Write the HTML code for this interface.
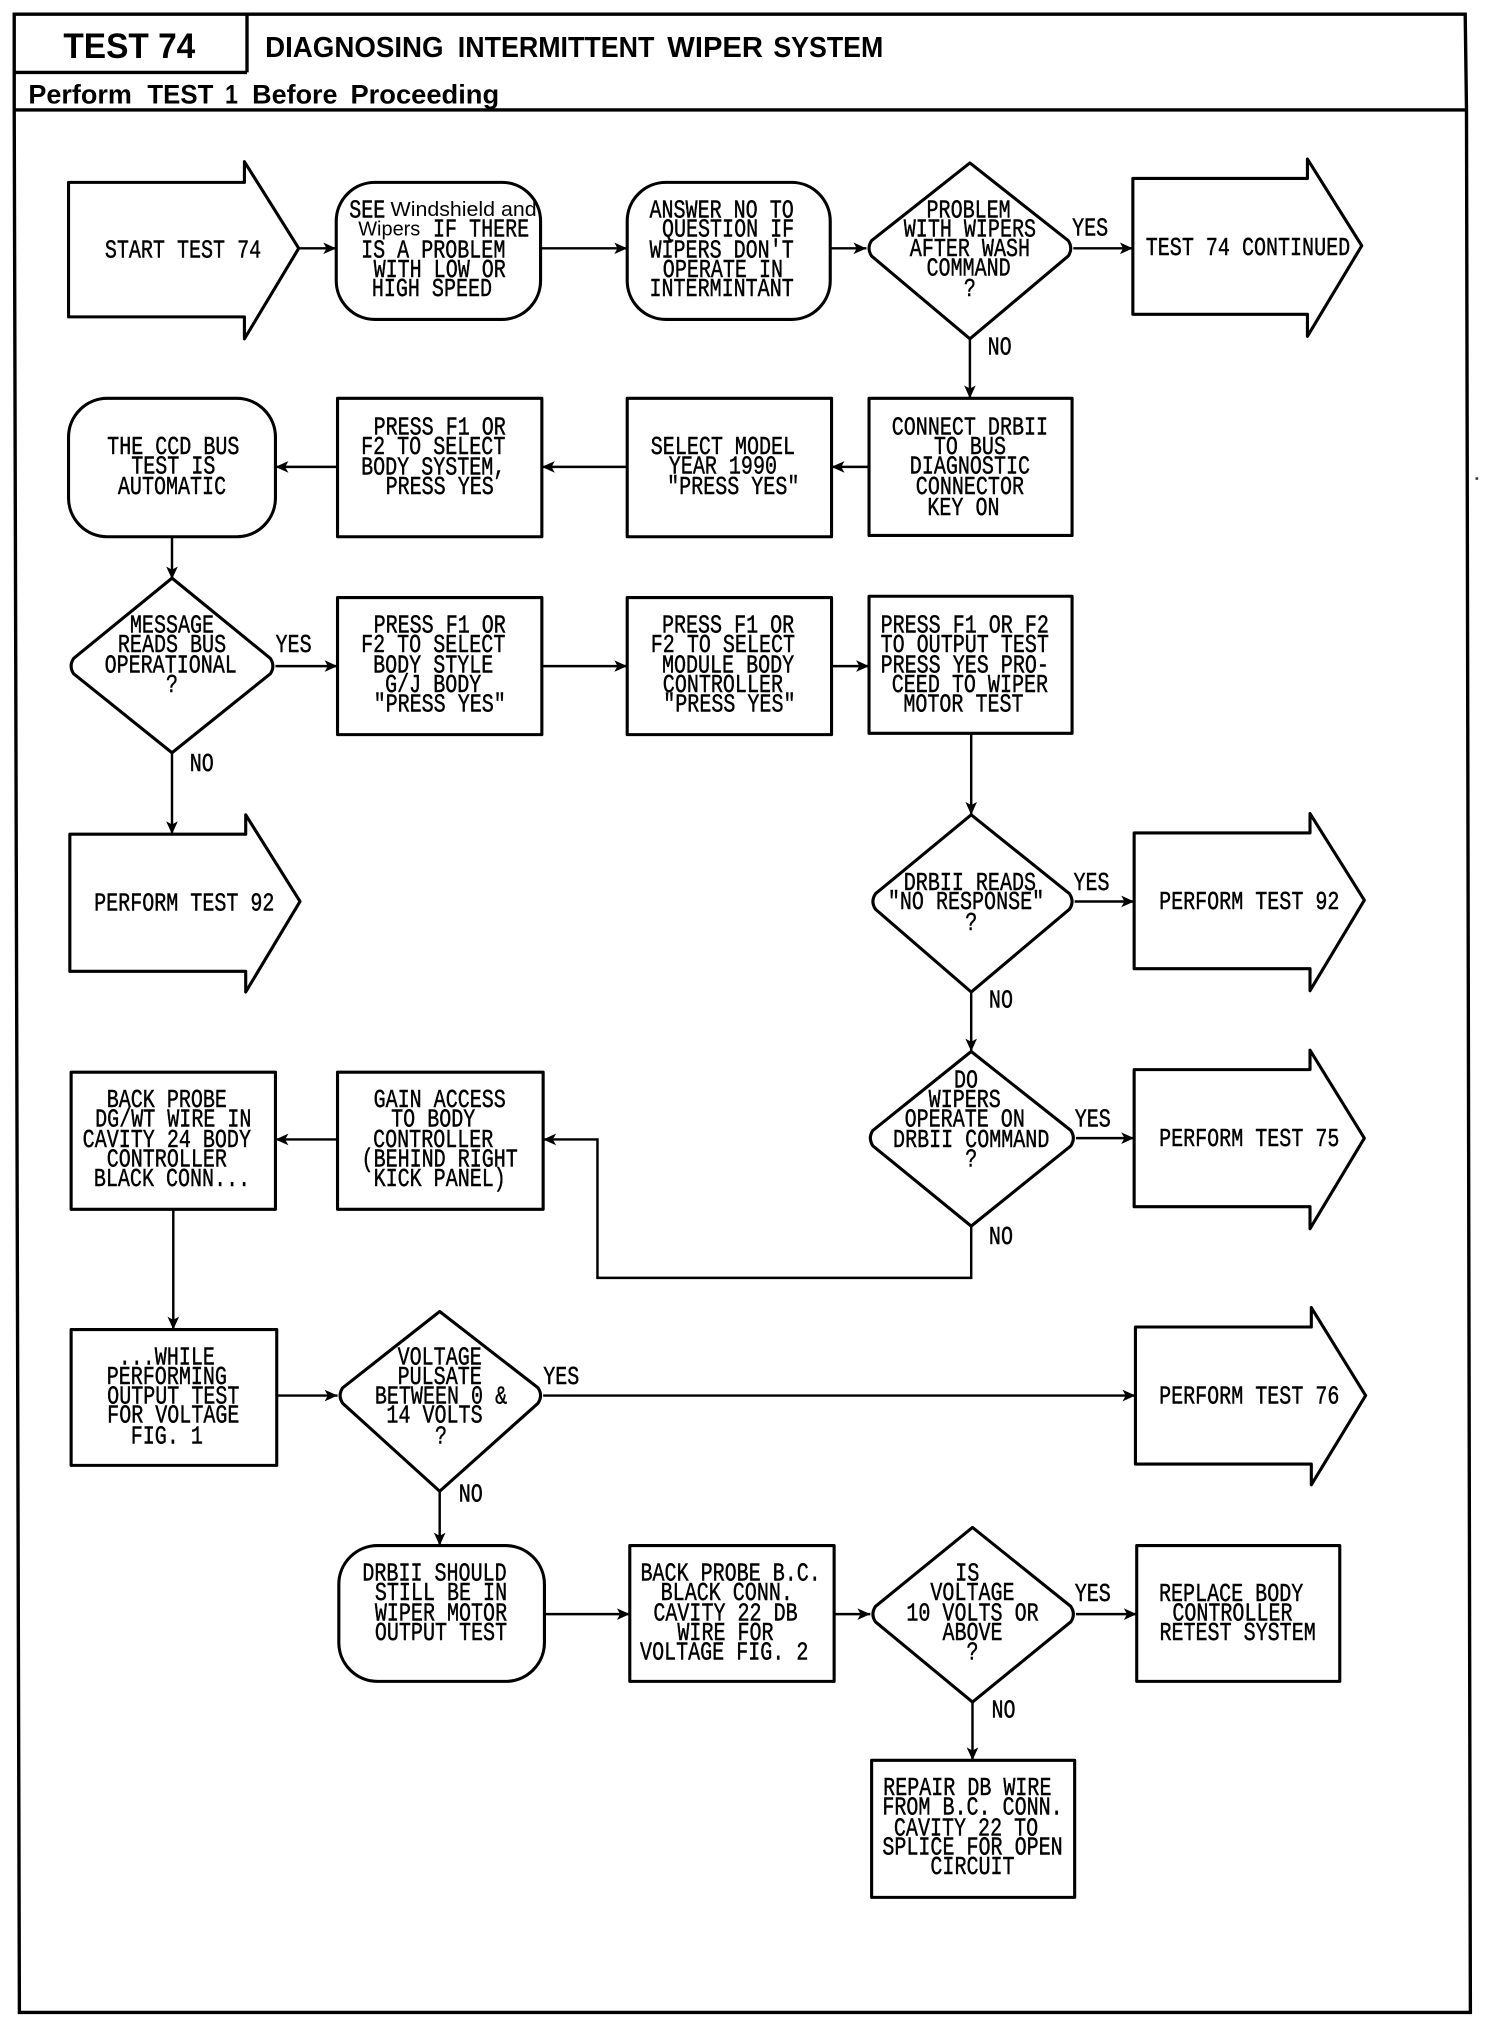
<!DOCTYPE html>
<html><head><meta charset="utf-8"><style>
html,body{margin:0;padding:0;background:#fff}
svg{display:block;position:absolute;left:0;top:0}
.s{fill:#fff;stroke:#000;stroke-width:2.4;stroke-linejoin:round}
.l{fill:none;stroke:#000;stroke-width:1.9}
.f{fill:none;stroke:#000;stroke-width:2.6}
text{fill:#000}
.m text{font-family:"Liberation Mono",monospace;font-size:20px;text-anchor:middle;stroke:#000;stroke-width:.35}
.h{font-family:"Liberation Sans",sans-serif;font-weight:bold}
</style></head><body>
<svg width="1504" height="2028" viewBox="0 0 1163 1568" preserveAspectRatio="none" xmlns="http://www.w3.org/2000/svg">
<defs>
<marker id="a" markerUnits="userSpaceOnUse" markerWidth="12" markerHeight="10" refX="10" refY="5" orient="auto"><path d="M0 0.5L10 5L0 9.5L2.5 5Z" fill="#000"/></marker>
</defs>
<rect width="1163" height="1568" fill="#fff"/>

<!-- frame -->
<path class="f" d="M11 11H1133L1134 85L1137 1556H15L11 85Z"/>
<path class="f" d="M11 85H1134M11 56H191M191 11V56"/>
<text class="h" x="100" y="45" font-size="27" text-anchor="middle" textLength="102" lengthAdjust="spacingAndGlyphs">TEST 74</text>
<text class="h" x="205" y="44" font-size="22" textLength="138" lengthAdjust="spacingAndGlyphs">DIAGNOSING</text>
<text class="h" x="354" y="44" font-size="22" textLength="152" lengthAdjust="spacingAndGlyphs">INTERMITTENT</text>
<text class="h" x="516" y="44" font-size="22" textLength="74" lengthAdjust="spacingAndGlyphs">WIPER</text>
<text class="h" x="598" y="44" font-size="22" textLength="85" lengthAdjust="spacingAndGlyphs">SYSTEM</text>
<text class="h" x="22" y="80" font-size="21" textLength="80" lengthAdjust="spacingAndGlyphs">Perform</text>
<text class="h" x="114" y="80" font-size="21" textLength="51" lengthAdjust="spacingAndGlyphs">TEST</text>
<text class="h" x="174" y="80" font-size="21" textLength="10" lengthAdjust="spacingAndGlyphs">1</text>
<text class="h" x="195" y="80" font-size="21" textLength="66" lengthAdjust="spacingAndGlyphs">Before</text>
<text class="h" x="271" y="80" font-size="21" textLength="115" lengthAdjust="spacingAndGlyphs">Proceeding</text>
<rect x="1141" y="369" width="2" height="2" fill="#333"/>

<!-- shapes -->
<polygon class="s" points="53,141 189,141 189,125 231,192 189,262 189,245 53,245"/>
<rect class="s" x="260" y="141" width="158" height="106" rx="30"/>
<rect class="s" x="485" y="141" width="157" height="106" rx="30"/>
<path class="s" d="M750 126L826 186Q830 192 826 198L750 262L674 198Q670 192 674 186Z"/>
<polygon class="s" points="876,138 1011,138 1011,123 1053,190 1011,260 1011,243 876,243"/>

<rect class="s" x="672" y="308" width="157" height="106"/>
<rect class="s" x="485" y="308" width="158" height="107"/>
<rect class="s" x="261" y="308" width="158" height="107"/>
<rect class="s" x="53" y="308" width="160" height="107" rx="30"/>

<path class="s" d="M133 447L209 509Q213 515 209 521L133 582L57 521Q53 515 57 509Z"/>
<rect class="s" x="261" y="462" width="158" height="106"/>
<rect class="s" x="485" y="462" width="158" height="106"/>
<rect class="s" x="672" y="461" width="157" height="106"/>

<polygon class="s" points="54,645 190,645 190,630 232,697 190,767 190,751 54,751"/>
<path class="s" d="M751 630L827 691Q831 697 827 703L751 767L677 703Q673 697 677 691Z"/>
<polygon class="s" points="877,644 1013,644 1013,629 1055,696 1013,766 1013,749 877,749"/>

<path class="s" d="M751 813L828 874Q832 880 828 886L751 948L675 886Q671 880 675 874Z"/>
<polygon class="s" points="877,827 1013,827 1013,812 1055,880 1013,950 1013,933 877,933"/>
<rect class="s" x="261" y="829" width="159" height="106"/>
<rect class="s" x="55" y="829" width="158" height="106"/>

<rect class="s" x="55" y="1028" width="159" height="105"/>
<path class="s" d="M340 1014L416 1073Q420 1079 416 1085L340 1153L265 1085Q261 1079 265 1073Z"/>
<polygon class="s" points="878,1026 1014,1026 1014,1011 1056,1079 1014,1148 1014,1132 878,1132"/>

<rect class="s" x="262" y="1195" width="159" height="105" rx="30"/>
<rect class="s" x="487" y="1195" width="158" height="105"/>
<path class="s" d="M752 1181L828 1242Q832 1248 828 1254L752 1316L677 1254Q673 1248 677 1242Z"/>
<rect class="s" x="879" y="1195" width="157" height="105"/>
<rect class="s" x="674" y="1361" width="157" height="106"/>

<!-- connectors -->
<path class="l" marker-end="url(#a)" d="M231 192H260"/>
<path class="l" marker-end="url(#a)" d="M418 192H485"/>
<path class="l" marker-end="url(#a)" d="M642 192H670"/>
<path class="l" marker-end="url(#a)" d="M830 192H876"/>
<path class="l" marker-end="url(#a)" d="M750 262V308"/>
<path class="l" marker-end="url(#a)" d="M672 361H643"/>
<path class="l" marker-end="url(#a)" d="M485 361H419"/>
<path class="l" marker-end="url(#a)" d="M261 361H213"/>
<path class="l" marker-end="url(#a)" d="M133 415V448"/>
<path class="l" marker-end="url(#a)" d="M213 515H261"/>
<path class="l" marker-end="url(#a)" d="M419 515H485"/>
<path class="l" marker-end="url(#a)" d="M643 515H672"/>
<path class="l" marker-end="url(#a)" d="M133 582V645"/>
<path class="l" marker-end="url(#a)" d="M751 567V630"/>
<path class="l" marker-end="url(#a)" d="M831 697H877"/>
<path class="l" marker-end="url(#a)" d="M751 767V813"/>
<path class="l" marker-end="url(#a)" d="M832 880H877"/>
<path class="l" marker-end="url(#a)" d="M751 948V988H462V881H420"/>
<path class="l" marker-end="url(#a)" d="M261 881H213"/>
<path class="l" marker-end="url(#a)" d="M134 935V1028"/>
<path class="l" marker-end="url(#a)" d="M214 1079H261"/>
<path class="l" marker-end="url(#a)" d="M420 1079H878"/>
<path class="l" marker-end="url(#a)" d="M340 1153V1195"/>
<path class="l" marker-end="url(#a)" d="M421 1248H487"/>
<path class="l" marker-end="url(#a)" d="M645 1248H673"/>
<path class="l" marker-end="url(#a)" d="M832 1248H879"/>
<path class="l" marker-end="url(#a)" d="M752 1316V1361"/>

<!-- text -->
<g class="m">
<text transform="translate(141.5 199) scale(.775 1)">START TEST 74</text>

<text transform="translate(284 168) scale(.775 1)">SEE</text>
<text x="302" y="167" style="font-family:'Liberation Sans',sans-serif;font-size:15.5px;text-anchor:start;stroke:none" textLength="113" lengthAdjust="spacingAndGlyphs">Windshield and</text>
<text x="277" y="182" style="font-family:'Liberation Sans',sans-serif;font-size:15.5px;text-anchor:start;stroke:none" textLength="48" lengthAdjust="spacingAndGlyphs">Wipers</text>
<text transform="translate(372 183) scale(.775 1)">IF THERE</text>
<text transform="translate(335 199) scale(.775 1)">IS A PROBLEM</text>
<text transform="translate(340 214) scale(.775 1)">WITH LOW OR</text>
<text transform="translate(334 229) scale(.775 1)">HIGH SPEED</text>

<text transform="translate(558 168) scale(.775 1)">ANSWER NO TO</text>
<text transform="translate(563 183) scale(.775 1)">QUESTION IF</text>
<text transform="translate(558 199) scale(.775 1)">WIPERS DON'T</text>
<text transform="translate(559 214) scale(.775 1)">OPERATE IN</text>
<text transform="translate(558 229) scale(.775 1)">INTERMINTANT</text>

<text transform="translate(749 168) scale(.775 1)">PROBLEM</text>
<text transform="translate(750 183) scale(.775 1)">WITH WIPERS</text>
<text transform="translate(750 198) scale(.775 1)">AFTER WASH</text>
<text transform="translate(749 213) scale(.775 1)">COMMAND</text>
<text transform="translate(750 229) scale(.775 1)">?</text>
<text transform="translate(843 182) scale(.775 1)">YES</text>
<text transform="translate(773 274) scale(.775 1)">NO</text>
<text transform="translate(965 197) scale(.775 1)">TEST 74 CONTINUED</text>

<text transform="translate(750 336) scale(.775 1)">CONNECT DRBII</text>
<text transform="translate(750 351) scale(.775 1)">TO BUS</text>
<text transform="translate(750 366) scale(.775 1)">DIAGNOSTIC</text>
<text transform="translate(750 382) scale(.775 1)">CONNECTOR</text>
<text transform="translate(745 398) scale(.775 1)">KEY ON</text>

<text transform="translate(559 351) scale(.775 1)">SELECT MODEL</text>
<text transform="translate(559 366) scale(.775 1)">YEAR 1990</text>
<text transform="translate(567 382) scale(.775 1)">"PRESS YES"</text>

<text transform="translate(340 336) scale(.775 1)">PRESS F1 OR</text>
<text transform="translate(335 351) scale(.775 1)">F2 TO SELECT</text>
<text transform="translate(335 367) scale(.775 1)">BODY SYSTEM,</text>
<text transform="translate(340 382) scale(.775 1)">PRESS YES</text>

<text transform="translate(134 351) scale(.775 1)">THE CCD BUS</text>
<text transform="translate(134 366) scale(.775 1)">TEST IS</text>
<text transform="translate(133 382) scale(.775 1)">AUTOMATIC</text>

<text transform="translate(133 489) scale(.775 1)">MESSAGE</text>
<text transform="translate(133 504) scale(.775 1)">READS BUS</text>
<text transform="translate(132 520) scale(.775 1)">OPERATIONAL</text>
<text transform="translate(133 535) scale(.775 1)">?</text>
<text transform="translate(227 504) scale(.775 1)">YES</text>
<text transform="translate(156 596) scale(.775 1)">NO</text>

<text transform="translate(340 489) scale(.775 1)">PRESS F1 OR</text>
<text transform="translate(335 504) scale(.775 1)">F2 TO SELECT</text>
<text transform="translate(335 520) scale(.775 1)">BODY STYLE</text>
<text transform="translate(335 535) scale(.775 1)">G/J BODY</text>
<text transform="translate(340 550) scale(.775 1)">"PRESS YES"</text>

<text transform="translate(563 489) scale(.775 1)">PRESS F1 OR</text>
<text transform="translate(559 504) scale(.775 1)">F2 TO SELECT</text>
<text transform="translate(563 520) scale(.775 1)">MODULE BODY</text>
<text transform="translate(559 535) scale(.775 1)">CONTROLLER</text>
<text transform="translate(564 550) scale(.775 1)">"PRESS YES"</text>

<text transform="translate(746 489) scale(.775 1)">PRESS F1 OR F2</text>
<text transform="translate(746 504) scale(.775 1)">TO OUTPUT TEST</text>
<text transform="translate(746 520) scale(.775 1)">PRESS YES PRO-</text>
<text transform="translate(750 535) scale(.775 1)">CEED TO WIPER</text>
<text transform="translate(745 550) scale(.775 1)">MOTOR TEST</text>

<text transform="translate(142.5 704) scale(.775 1)">PERFORM TEST 92</text>

<text transform="translate(750 688) scale(.775 1)">DRBII READS</text>
<text transform="translate(747 703) scale(.775 1)">"NO RESPONSE"</text>
<text transform="translate(751 719) scale(.775 1)">?</text>
<text transform="translate(844 688) scale(.775 1)">YES</text>
<text transform="translate(774 779) scale(.775 1)">NO</text>
<text transform="translate(966 703) scale(.775 1)">PERFORM TEST 92</text>

<text transform="translate(747 841) scale(.775 1)">DO</text>
<text transform="translate(746 856) scale(.775 1)">WIPERS</text>
<text transform="translate(746 871) scale(.775 1)">OPERATE ON</text>
<text transform="translate(751 887) scale(.775 1)">DRBII COMMAND</text>
<text transform="translate(751 902) scale(.775 1)">?</text>
<text transform="translate(845 871) scale(.775 1)">YES</text>
<text transform="translate(774 962) scale(.775 1)">NO</text>
<text transform="translate(966 886) scale(.775 1)">PERFORM TEST 75</text>

<text transform="translate(340 856) scale(.775 1)">GAIN ACCESS</text>
<text transform="translate(335 871) scale(.775 1)">TO BODY</text>
<text transform="translate(335 887) scale(.775 1)">CONTROLLER</text>
<text transform="translate(340 902) scale(.775 1)">(BEHIND RIGHT</text>
<text transform="translate(340 917) scale(.775 1)">KICK PANEL)</text>

<text transform="translate(129 856) scale(.775 1)">BACK PROBE</text>
<text transform="translate(134 871) scale(.775 1)">DG/WT WIRE IN</text>
<text transform="translate(129 887) scale(.775 1)">CAVITY 24 BODY</text>
<text transform="translate(129 902) scale(.775 1)">CONTROLLER</text>
<text transform="translate(133 917) scale(.775 1)">BLACK CONN...</text>

<text transform="translate(129 1055) scale(.775 1)">...WHILE</text>
<text transform="translate(129 1070) scale(.775 1)">PERFORMING</text>
<text transform="translate(134 1085) scale(.775 1)">OUTPUT TEST</text>
<text transform="translate(134 1100) scale(.775 1)">FOR VOLTAGE</text>
<text transform="translate(129 1116) scale(.775 1)">FIG. 1</text>

<text transform="translate(340 1055) scale(.775 1)">VOLTAGE</text>
<text transform="translate(340 1070) scale(.775 1)">PULSATE</text>
<text transform="translate(341 1085) scale(.775 1)">BETWEEN 0 &amp;</text>
<text transform="translate(336 1100) scale(.775 1)">14 VOLTS</text>
<text transform="translate(341 1116) scale(.775 1)">?</text>
<text transform="translate(434 1070) scale(.775 1)">YES</text>
<text transform="translate(364 1161) scale(.775 1)">NO</text>
<text transform="translate(966 1085) scale(.775 1)">PERFORM TEST 76</text>

<text transform="translate(336 1222) scale(.775 1)">DRBII SHOULD</text>
<text transform="translate(341 1237) scale(.775 1)">STILL BE IN</text>
<text transform="translate(341 1253) scale(.775 1)">WIPER MOTOR</text>
<text transform="translate(341 1268) scale(.775 1)">OUTPUT TEST</text>

<text transform="translate(565 1222) scale(.775 1)">BACK PROBE B.C.</text>
<text transform="translate(562 1237) scale(.775 1)">BLACK CONN.</text>
<text transform="translate(561 1253) scale(.775 1)">CAVITY 22 DB</text>
<text transform="translate(561 1268) scale(.775 1)">WIRE FOR</text>
<text transform="translate(560 1283) scale(.775 1)">VOLTAGE FIG. 2</text>

<text transform="translate(748 1222) scale(.775 1)">IS</text>
<text transform="translate(752 1237) scale(.775 1)">VOLTAGE</text>
<text transform="translate(752 1253) scale(.775 1)">10 VOLTS OR</text>
<text transform="translate(752 1268) scale(.775 1)">ABOVE</text>
<text transform="translate(752 1283) scale(.775 1)">?</text>
<text transform="translate(845 1238) scale(.775 1)">YES</text>
<text transform="translate(776 1328) scale(.775 1)">NO</text>

<text transform="translate(952 1238) scale(.775 1)">REPLACE BODY</text>
<text transform="translate(953 1253) scale(.775 1)">CONTROLLER</text>
<text transform="translate(957 1268) scale(.775 1)">RETEST SYSTEM</text>

<text transform="translate(748 1388) scale(.775 1)">REPAIR DB WIRE</text>
<text transform="translate(752 1403) scale(.775 1)">FROM B.C. CONN.</text>
<text transform="translate(747 1419) scale(.775 1)">CAVITY 22 TO</text>
<text transform="translate(752 1434) scale(.775 1)">SPLICE FOR OPEN</text>
<text transform="translate(752 1449) scale(.775 1)">CIRCUIT</text>
</g>
</svg>
</body></html>
